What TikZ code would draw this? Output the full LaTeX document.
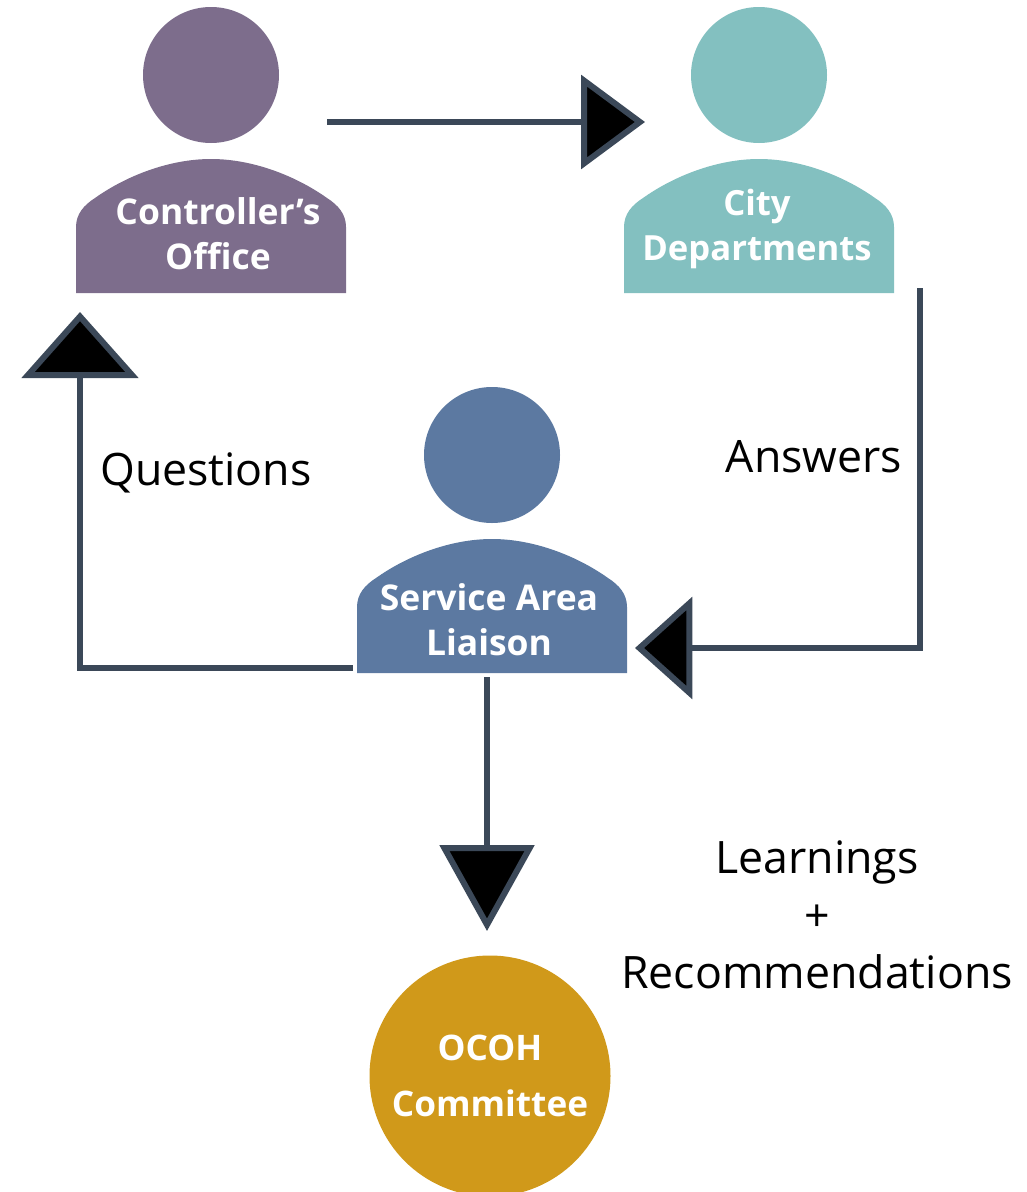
\documentclass[tikz,border=0pt]{standalone}
\usepackage{fontspec}
\setmainfont{Open Sans}
\usetikzlibrary{arrows.meta}
\definecolor{lineC}{HTML}{3B4858}
\definecolor{purpleC}{HTML}{7D6D8C}
\definecolor{tealC}{HTML}{83C0C0}
\definecolor{blueC}{HTML}{5C79A1}
\definecolor{goldC}{HTML}{D0991A}
\tikzset{
  x=0.75pt,y=-0.75pt,
  headR/.tip={Triangle[length=48pt,width=70pt,fill=black,color=lineC]},
  headL/.tip={Triangle[length=43pt,width=76pt,fill=black,color=lineC]},
  headU/.tip={Triangle[length=49.5pt,width=87pt,fill=black,color=lineC]},
  headD/.tip={Triangle[length=64.5pt,width=70.5pt,fill=black,color=lineC]},
  link/.style={draw=lineC,line width=4.5pt,miter limit=10},
  boxlabel/.style={text=white,font=\fontsize{26.6}{33.5}\selectfont\bfseries,align=center,inner sep=0pt},
  plain/.style={text=black,font=\fontsize{33.5}{43}\selectfont,align=center,inner sep=0pt},
  person/.pic={
    \fill[pic actions] (0,0) circle[radius=68];
    \fill[pic actions] (-135,218) -- (-135,152)
      .. controls (-135,139) and (-127,130) .. (-116,123)
      .. controls (-85,101) and (-42,84) .. (0,84)
      .. controls (42,84) and (85,101) .. (116,123)
      .. controls (127,130) and (135,139) .. (135,152)
      -- (135,218) -- cycle;
  }
}
\begin{document}
\begin{tikzpicture}
\useasboundingbox (0,0) rectangle (1027,1192);
\clip (0,0) rectangle (1027,1192);
\pic[fill=purpleC] at (211,75) {person};
\pic[fill=tealC] at (759,75) {person};
\pic[fill=blueC] at (492,455) {person};
\node[circle,fill=goldC,minimum size=180.75pt,inner sep=0pt] (ocoh) at (490,1076) {};
\node[boxlabel] (ctrl) at (218,234) {Controller’s\\Office};
\node[boxlabel,font=\fontsize{26}{33.5}\selectfont\bfseries] (city) at (757,229) {City\\Departments};
\node[boxlabel] (sal) at (489,620) {Service Area\\Liaison};
\node[boxlabel,font=\fontsize{26.4}{42}\selectfont\bfseries] (ocohT) at (490,1076) {OCOH\\Committee};
\node[plain] (q) at (206,473) {Questions};
\node[plain] (a) at (814,457) {Answers};
\node[plain] (l) at (817,915) {Learnings\\+\\Recommendations};
\coordinate (c1a) at (327,122);
\coordinate (c1b) at (645,122);
\coordinate (c2a) at (920,288);
\coordinate (c2m) at (920,648);
\coordinate (c2b) at (635,648);
\coordinate (c3a) at (353,668);
\coordinate (c3m) at (80,668);
\coordinate (c3b) at (80,312);
\coordinate (c4a) at (487,677);
\coordinate (c4b) at (487,931);
\draw[link,-{headR}] (c1a) -- (c1b);
\draw[link,-{headL}] (c2a) -- (c2m) -- (c2b);
\draw[link,-{headU}] (c3a) -- (c3m) -- (c3b);
\draw[link,-{headD}] (c4a) -- (c4b);
\end{tikzpicture}
\end{document}
